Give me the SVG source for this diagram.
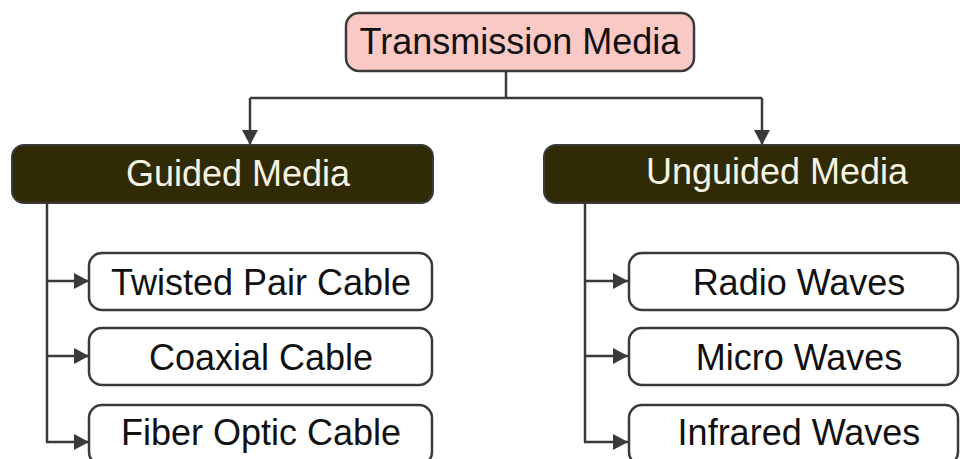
<svg xmlns="http://www.w3.org/2000/svg" width="960" height="459" viewBox="0 0 960 459">
  <defs>
    <marker id="arrow" viewBox="0 0 10 10" refX="10" refY="5" markerUnits="userSpaceOnUse" markerWidth="15" markerHeight="16" orient="auto" preserveAspectRatio="none">
      <path d="M0,0 L10,5 L0,10 z" fill="#3a3a3a"/>
    </marker>
    <style>
      .edge { fill: none; stroke: #3a3a3a; stroke-width: 2.5; }
      .root { fill: #fac9c6; stroke: #3a3a3a; stroke-width: 2.5; }
      .cat { fill: #302b04; stroke: #3a3a3a; stroke-width: 2; }
      .leaf { fill: #ffffff; stroke: #3a3a3a; stroke-width: 2.5; }
      text { font-family: "Liberation Sans", Arial, sans-serif; font-size: 36px; text-anchor: middle; }
      .dark { fill: #111111; }
      .light { fill: #f6f4e4; }
    </style>
  </defs>
  <rect width="960" height="459" fill="#ffffff"/>

  <!-- connectors -->
  <g id="connectors">
    <path class="edge" d="M506,71 V98 M250,98 H762"/>
    <path class="edge" d="M250,98 V145" marker-end="url(#arrow)"/>
    <path class="edge" d="M762,98 V145" marker-end="url(#arrow)"/>
    <path class="edge" d="M47,203 V442"/>
    <path class="edge" d="M47,281 H89" marker-end="url(#arrow)"/>
    <path class="edge" d="M47,356 H89" marker-end="url(#arrow)"/>
    <path class="edge" d="M46,442 H89" marker-end="url(#arrow)"/>
    <path class="edge" d="M585,203 V442"/>
    <path class="edge" d="M585,281 H628" marker-end="url(#arrow)"/>
    <path class="edge" d="M585,356 H628" marker-end="url(#arrow)"/>
    <path class="edge" d="M584,442 H628" marker-end="url(#arrow)"/>
  </g>

  <!-- root -->
  <g id="transmission-media">
    <rect class="root" x="346" y="13" width="348" height="58" rx="13"/>
    <text class="dark" x="520" y="54">Transmission Media</text>
  </g>

  <!-- categories -->
  <g id="guided-media">
    <rect class="cat" x="12" y="145" width="421" height="58" rx="12"/>
    <text class="light" x="238" y="186">Guided Media</text>
  </g>
  <g id="unguided-media">
    <rect class="cat" x="544" y="145" width="430" height="58" rx="12"/>
    <text class="light" x="777" y="184">Unguided Media</text>
  </g>

  <!-- guided leaves -->
  <g id="twisted-pair-cable">
    <rect class="leaf" x="89" y="253" width="343" height="57" rx="13"/>
    <text class="dark" x="261" y="295">Twisted Pair Cable</text>
  </g>
  <g id="coaxial-cable">
    <rect class="leaf" x="89" y="328" width="343" height="57" rx="13"/>
    <text class="dark" x="261" y="370">Coaxial Cable</text>
  </g>
  <g id="fiber-optic-cable">
    <rect class="leaf" x="89" y="405" width="343" height="60" rx="13"/>
    <text class="dark" x="261" y="445">Fiber Optic Cable</text>
  </g>

  <!-- unguided leaves -->
  <g id="radio-waves">
    <rect class="leaf" x="629" y="253" width="329" height="57" rx="13"/>
    <text class="dark" x="799" y="295">Radio Waves</text>
  </g>
  <g id="micro-waves">
    <rect class="leaf" x="629" y="328" width="329" height="57" rx="13"/>
    <text class="dark" x="799" y="370">Micro Waves</text>
  </g>
  <g id="infrared-waves">
    <rect class="leaf" x="629" y="405" width="329" height="60" rx="13"/>
    <text class="dark" x="799" y="445">Infrared Waves</text>
  </g>
</svg>
